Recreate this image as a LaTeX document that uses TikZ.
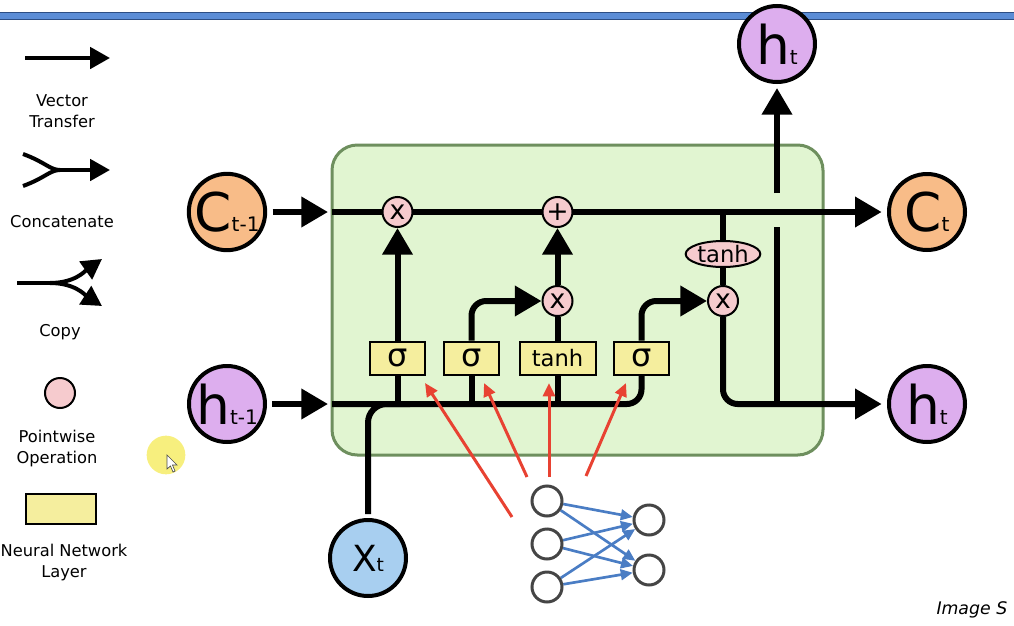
\documentclass[tikz,border=0pt]{standalone}
\usepackage{fontspec}
\setmainfont{DejaVu Sans}
\usetikzlibrary{arrows.meta,shapes.geometric}
\pgfdeclarelayer{bg}
\pgfsetlayers{bg,main}
\definecolor{cOrange}{HTML}{F8BC88}
\definecolor{cPurple}{HTML}{DDAEEE}
\definecolor{cBlue}{HTML}{A8CFF0}
\definecolor{cPink}{HTML}{F6CBCE}
\definecolor{cYellow}{HTML}{F5EE9E}
\definecolor{cGreen}{HTML}{E1F5D1}
\definecolor{cGreenB}{HTML}{6E8F5E}
\definecolor{cRed}{HTML}{E84232}
\definecolor{cNN}{HTML}{4A7DC4}
\definecolor{cNode}{HTML}{454545}
\definecolor{cBar}{HTML}{5B8DD6}
\definecolor{cBarB}{HTML}{2C4E84}
\definecolor{cHi}{HTML}{F7EF7E}
\newcommand{\fsz}[1]{\fontsize{#1}{#1}\selectfont}
\begin{document}
\begin{tikzpicture}[x=0.75pt,y=-0.75pt,
  flow/.style={line width=4.5pt},
  flowarr/.style={flow,-{Triangle[length=20pt,width=22pt]}},
  legline/.style={line width=3pt},
  legarr/.style={legline,-{Triangle[length=15pt,width=16pt]}},
  bigc/.style={circle,draw,line width=3pt,minimum size=57pt,inner sep=0pt},
  pw/.style={circle,draw,line width=1.5pt,fill=cPink,minimum size=22.5pt,inner sep=0pt,font=\fsz{20}},
  gate/.style={rectangle,draw,line width=1.5pt,fill=cYellow,minimum height=24.75pt,minimum width=41pt,inner sep=0pt},
  lbl/.style={align=center,font=\fontsize{12.2}{15.75}\selectfont},
  nn/.style={circle,draw=cNode,line width=2.25pt,fill=white,minimum size=22.5pt,inner sep=0pt},
  nnarr/.style={draw=cNN,line width=2pt,-{Triangle[length=9pt,width=8pt]}},
  redarr/.style={draw=cRed,line width=2.25pt,-{Triangle[length=10pt,width=9pt]}},
]
\useasboundingbox (0,0) rectangle (1014,625);

% ---------- nodes (main layer) ----------
\node[bigc,fill=cOrange] (cprev) at (227,212) {{\fsz{40}C}{\fsz{15}t-1}};
\node[bigc,fill=cPurple] (hprev) at (227,404) {{\fsz{40}h}{\fsz{15}t-1}};
\node[bigc,fill=cOrange] (cnext) at (927,212) {{\fsz{40}C}{\fsz{15}t}};
\node[bigc,fill=cPurple] (hnext) at (927,404) {{\fsz{40}h}{\fsz{15}t}};
\node[bigc,fill=cPurple] (hup) at (777,44) {{\fsz{40}h}{\fsz{15}t}};
\node[bigc,fill=cBlue] (xin) at (368,558) {{\fsz{27}X}{\fsz{14}t}};

\node[pw] (fx) at (397.5,212) {x};
\node[pw] (add) at (557.5,212) {+};
\node[pw] (ix) at (557.5,301) {x};
\node[pw] (ox) at (723,301) {x};
\node[ellipse,draw,line width=1.5pt,fill=cPink,minimum width=56pt,minimum height=19.5pt,inner sep=0pt,font=\fsz{17}] (otanh) at (723,254) {tanh};

\node[gate,font=\fsz{24}] (g1) at (397.5,358) {σ};
\node[gate,font=\fsz{24}] (g2) at (471.5,358) {σ};
\node[gate,minimum width=57pt,font=\fsz{17}] (g3) at (557.5,358) {tanh};
\node[gate,font=\fsz{24}] (g4) at (641.5,358) {σ};

\node[nn] (n1) at (547,501) {};
\node[nn] (n2) at (547,544) {};
\node[nn] (n3) at (547,587) {};
\node[nn] (o1) at (649,520) {};
\node[nn] (o2) at (649,570) {};

\coordinate (cin) at (332,212);
\coordinate (hin) at (332,404);
\coordinate (xj) at (410,404);
\coordinate (hj) at (777,404);
\coordinate (br1) at (777,227);
\coordinate (br2) at (777,193);

\coordinate (r1a) at (512,517); \coordinate (r1b) at (425,383);
\coordinate (r2a) at (527,477); \coordinate (r2b) at (484,383);
\coordinate (r3a) at (549,477); \coordinate (r3b) at (549,383);
\coordinate (r4a) at (586,476); \coordinate (r4b) at (626,383);

% ---------- background layer ----------
\begin{pgfonlayer}{bg}
\fill[cBar,draw=cBarB,line width=0.75pt] (-5,12.5) rectangle (1020,19.5);
\draw[fill=cGreen,draw=cGreenB,line width=2.25pt,rounded corners=19pt] (332,145) rectangle (823,455);

\draw[flowarr,shorten <=4pt,shorten >=3pt] (cprev) -- (cin);
\draw[flowarr,shorten <=4pt,shorten >=3pt] (hprev) -- (hin);
\draw[flowarr,shorten >=4pt] (cin) -- (cnext);
\draw[flow,rounded corners=11pt] (hin) -| (g4.south);
\draw[flow,rounded corners=14pt,shorten <=3pt] (xin.north) |- (xj);
\draw[flow] (g1.south) -- (g1.south |- hin);
\draw[flow] (g2.south) -- (g2.south |- hin);
\draw[flow] (g3.south) -- (g3.south |- hin);
\draw[flowarr] (g1.north) -- (fx.south);
\draw[flowarr,rounded corners=11pt] (g2.north) |- (ix.west);
\draw[flow] (g3.north) -- (ix.south);
\draw[flowarr] (ix.north) -- (add.south);
\draw[flowarr,rounded corners=11pt] (g4.north) |- (ox.west);
\draw[flow] (otanh.north |- cin) -- (otanh.north);
\draw[flow] (otanh.south) -- (ox.north);
\draw[flowarr,rounded corners=11pt,shorten >=4pt] (ox.south) |- (hnext.west);
\draw[flow] (hj) -- (br1);
\draw[flowarr,shorten >=3pt] (br2) -- (hup.south);

\draw[redarr] (r1a) -- (r1b);
\draw[redarr] (r2a) -- (r2b);
\draw[redarr] (r3a) -- (r3b);
\draw[redarr] (r4a) -- (r4b);

\draw[nnarr] (n1) -- (o1);
\draw[nnarr] (n1) -- (o2);
\draw[nnarr] (n2) -- (o1);
\draw[nnarr] (n2) -- (o2);
\draw[nnarr] (n3) -- (o1);
\draw[nnarr] (n3) -- (o2);
\end{pgfonlayer}

% ---------- legend ----------
\coordinate (v1) at (25,58); \coordinate (v2) at (110,58);
\draw[legarr] (v1) -- (v2);
\node[lbl] (vlab) at (62,111) {Vector\\Transfer};

\coordinate (ca) at (23,154); \coordinate (cb) at (23,186);
\coordinate (cm) at (60,170); \coordinate (ce) at (110,170);
\draw[legline] (ca) .. controls (45,162) and (50,170) .. (cm);
\draw[legline] (cb) .. controls (45,178) and (50,170) .. (cm);
\draw[legarr] (cm) -- (ce);
\node[lbl] (clab) at (62,222) {Concatenate};

\coordinate (pa) at (17,283); \coordinate (pm) at (50,283);
\coordinate (pu) at (102,259); \coordinate (pd) at (102,306);
\draw[legline] (pa) -- (pm);
\draw[legarr] (pm) .. controls (75,283) and (85,271) .. (pu);
\draw[legarr] (pm) .. controls (75,283) and (85,295) .. (pd);
\node[lbl] (plab) at (60,332) {Copy};

\node[pw] (lpw) at (60,393) {};
\node[lbl] (pwlab) at (57,449) {Pointwise\\Operation};

\node[gate,minimum width=52.5pt,minimum height=22.5pt] (lnn) at (61,509) {};
\node[lbl] (nnlab) at (64,563) {Neural Network\\Layer};

% cursor highlight
\fill[cHi] (166,455) circle[radius=14.5pt];
\draw[fill=white,draw=black!70,line width=0.5pt] (167,455) -- (167,469) -- (170.5,466) -- (173,472) -- (175,471) -- (172.5,465) -- (177,465) -- cycle;

\node[anchor=base east,font=\itshape\fsz{13}] (credit) at (1012,614) {Image S};
\end{tikzpicture}
\end{document}
